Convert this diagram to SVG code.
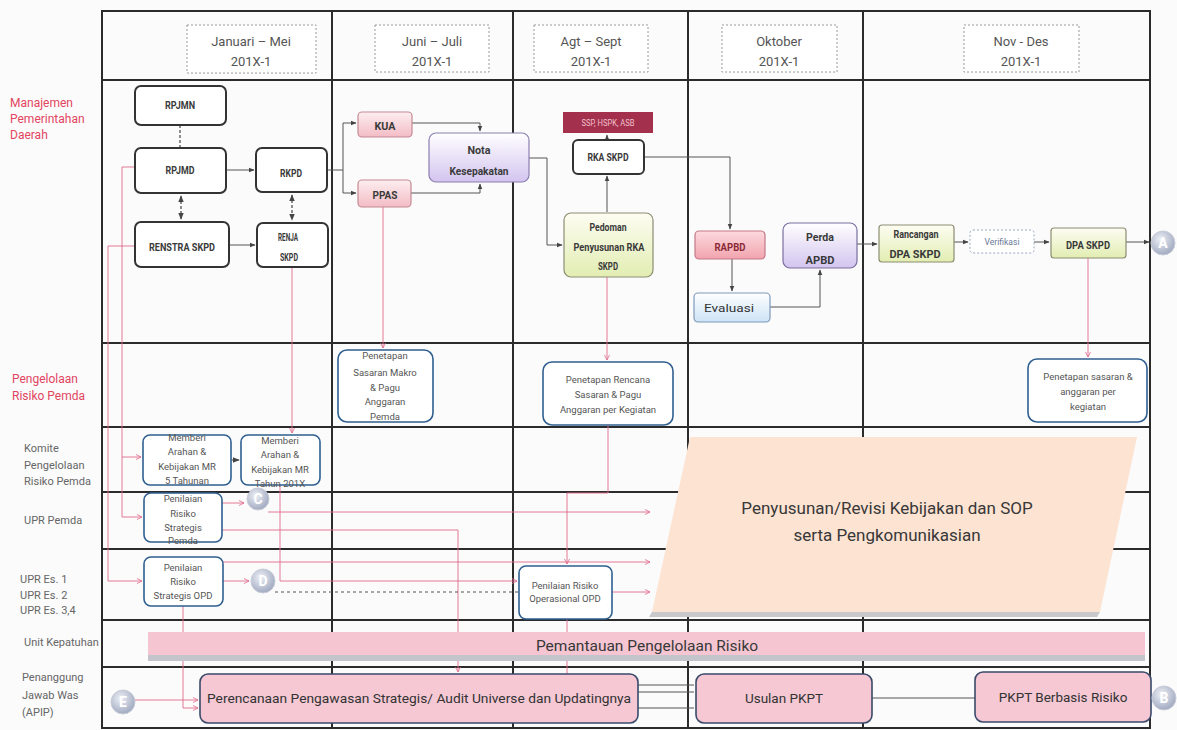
<svg xmlns="http://www.w3.org/2000/svg" width="1177" height="730" viewBox="0 0 1177 730">
<defs>
  <linearGradient id="gPink" x1="0" y1="0" x2="0" y2="1"><stop offset="0" stop-color="#fdeef0"/><stop offset="1" stop-color="#f3bcc5"/></linearGradient>
  <linearGradient id="gRed" x1="0" y1="0" x2="0" y2="1"><stop offset="0" stop-color="#fcdade"/><stop offset="1" stop-color="#f2a4ae"/></linearGradient>
  <linearGradient id="gPurple" x1="0" y1="0" x2="0" y2="1"><stop offset="0" stop-color="#ffffff"/><stop offset="1" stop-color="#d3c4ef"/></linearGradient>
  <linearGradient id="gYellow" x1="0" y1="0" x2="0" y2="1"><stop offset="0" stop-color="#fdfdf2"/><stop offset="1" stop-color="#e2edb2"/></linearGradient>
  <linearGradient id="gBlue" x1="0" y1="0" x2="0" y2="1"><stop offset="0" stop-color="#ffffff"/><stop offset="1" stop-color="#cde3f6"/></linearGradient>
  <radialGradient id="gCircle" cx="0.4" cy="0.35" r="0.7"><stop offset="0" stop-color="#eef0f6"/><stop offset="1" stop-color="#9ba5bd"/></radialGradient>
  <marker id="ag" viewBox="0 0 10 10" refX="9" refY="5" markerWidth="6" markerHeight="6" orient="auto-start-reverse"><path d="M0,1 L10,5 L0,9 z" fill="#444"/></marker>
  <marker id="ap" viewBox="0 0 10 10" refX="9" refY="5" markerWidth="7" markerHeight="7" orient="auto"><path d="M1,1 L9,5 L1,9" fill="none" stroke="#e06a8a" stroke-width="1.3"/></marker>
</defs>
<style>
  .grid{stroke:#2b2b2b;stroke-width:2;fill:none}
  .hdr{fill:#fff;stroke:#999;stroke-width:1;stroke-dasharray:2 2}
  .hdrt{font-family:Roboto,"Liberation Sans",sans-serif;font-size:13px;fill:#555;text-anchor:middle}
  .lane{font-family:Roboto,"Liberation Sans",sans-serif;font-size:11px;fill:#666}
  .laner{font-family:Roboto,"Liberation Sans",sans-serif;font-size:12px;fill:#e2455f}
  .nd{fill:#fff;stroke:#333;stroke-width:2}
  .bt{font-family:Roboto,"Liberation Sans",sans-serif;font-weight:bold;font-size:11px;fill:#3a3a3a;text-anchor:middle}
  .bn{fill:#fff;stroke:#2f5f8f;stroke-width:1.6}
  .st{font-family:Roboto,"Liberation Sans",sans-serif;font-size:9.5px;fill:#555;text-anchor:middle}
  .pk{stroke:#e06a8a;stroke-width:0.9;fill:none}
  .gc{stroke:#555;stroke-width:1;fill:none}
  .gd{stroke:#444;stroke-width:1.2;fill:none;stroke-dasharray:3 2}
  .circ{fill:url(#gCircle);stroke:#c8ccd8;stroke-width:1}
  .ct{font-family:Roboto,"Liberation Sans",sans-serif;font-weight:bold;font-size:14px;fill:#fff;text-anchor:middle}
  .big{font-family:Roboto,"Liberation Sans",sans-serif;font-size:17px;fill:#383838;text-anchor:middle}
  .pb{fill:#f5c8d4;stroke:#3a4a6a;stroke-width:1.6}
  .pbt{font-family:Roboto,"Liberation Sans",sans-serif;font-size:13.5px;fill:#333;text-anchor:middle}
</style>
<rect x="0" y="0" width="1177" height="730" fill="#fbfbfb"/>

<!-- grid -->
<g id="grid">
  <rect class="grid" x="102" y="11" width="1048" height="717"/>
  <path class="grid" d="M102,80 H1150 M102,343 H1150 M102,427 H1150 M102,492 H1150 M102,549 H1150 M102,620 H1150 M102,667 H1150"/>
  <path class="grid" d="M332,11 V728 M513,11 V728 M688,11 V728 M863,11 V728"/>
</g>

<!-- headers -->
<g id="headers">
  <rect class="hdr" x="187" y="25" width="129" height="48"/>
  <text class="hdrt" x="251" y="46">Januari – Mei</text><text class="hdrt" x="251" y="66">201X-1</text>
  <rect class="hdr" x="375" y="25" width="114" height="47"/>
  <text class="hdrt" x="432" y="46">Juni – Juli</text><text class="hdrt" x="432" y="66">201X-1</text>
  <rect class="hdr" x="534" y="25" width="114" height="47"/>
  <text class="hdrt" x="591" y="46">Agt – Sept</text><text class="hdrt" x="591" y="66">201X-1</text>
  <rect class="hdr" x="722" y="25" width="115" height="47"/>
  <text class="hdrt" x="779" y="46">Oktober</text><text class="hdrt" x="779" y="66">201X-1</text>
  <rect class="hdr" x="964" y="25" width="115" height="47"/>
  <text class="hdrt" x="1021" y="46">Nov - Des</text><text class="hdrt" x="1021" y="66">201X-1</text>
</g>

<!-- lane labels -->
<g id="lanes">
  <text class="laner" x="10" y="107">Manajemen</text>
  <text class="laner" x="10" y="123">Pemerintahan</text>
  <text class="laner" x="10" y="139">Daerah</text>
  <text class="laner" x="12" y="383">Pengelolaan</text>
  <text class="laner" x="12" y="400">Risiko Pemda</text>
  <text class="lane" x="24" y="452">Komite</text>
  <text class="lane" x="24" y="469">Pengelolaan</text>
  <text class="lane" x="24" y="485">Risiko Pemda</text>
  <text class="lane" x="24" y="524">UPR Pemda</text>
  <text class="lane" x="20" y="583">UPR Es. 1</text>
  <text class="lane" x="20" y="599">UPR Es. 2</text>
  <text class="lane" x="20" y="614">UPR Es. 3,4</text>
  <text class="lane" x="24" y="646">Unit Kepatuhan</text>
  <text class="lane" x="22" y="681">Penanggung</text>
  <text class="lane" x="22" y="699">Jawab Was</text>
  <text class="lane" x="22" y="716">(APIP)</text>
</g>

<!-- big background shape -->
<g id="sop">
  <polygon points="652,612 1100,612 1097,617 649,617" fill="#c9c9cc"/>
  <polygon points="690,437 1137,437 1100,612 652,612" fill="#fce3d2"/>
  <text class="big" x="887" y="514">Penyusunan/Revisi Kebijakan dan SOP</text>
  <text class="big" x="887" y="541">serta Pengkomunikasian</text>
</g>

<!-- connectors -->
<g id="connectors">
  <path class="gd" d="M180,125 V148"/>
  <path class="gd" d="M181,196 V219" marker-start="url(#ag)" marker-end="url(#ag)"/>
  <path class="gd" d="M292,195 V220" marker-start="url(#ag)" marker-end="url(#ag)"/>
  <path class="gc" d="M226,170 H254" marker-end="url(#ag)"/>
  <path class="gc" d="M229,245 H255" marker-end="url(#ag)"/>
  <path class="gc" d="M327,170 H343 M343,123 V193"/>
  <path class="gc" d="M343,123 H356" marker-end="url(#ag)"/>
  <path class="gc" d="M343,193 H356" marker-end="url(#ag)"/>
  <path class="gc" d="M412,123 H480 V131" marker-end="url(#ag)"/>
  <path class="gc" d="M411,193 H480 V184" marker-end="url(#ag)"/>
  <path class="gc" d="M529,158 H547 V245 H562" marker-end="url(#ag)"/>
  <path class="gc" d="M607,140 V135" marker-end="url(#ag)"/>
  <path class="gc" d="M607,212 V176" stroke="#999" marker-end="url(#ag)"/>
  <path class="gc" d="M644,157 H730 V229" marker-end="url(#ag)"/>
  <path class="gc" d="M732,259 V291" marker-end="url(#ag)"/>
  <path class="gc" d="M770,307 H820 V270" marker-end="url(#ag)"/>
  <path class="gc" d="M857,244 H877" marker-end="url(#ag)"/>
  <path class="gc" d="M954,242 H968" marker-end="url(#ag)"/>
  <path class="gc" d="M1034,242 H1049" marker-end="url(#ag)"/>
  <path class="gc" d="M1126,242 H1149" marker-end="url(#ag)"/>
  <path class="gd" d="M231,460 H239" marker-end="url(#ag)"/>
  <path class="gc" d="M872,698 H975" stroke="#999"/>
  <path class="gc" d="M638,685 H694 M638,692 H694 M638,708 H694" stroke="#999"/>

  <path class="pk" d="M135,167 H122 V517 H142" marker-end="url(#ap)"/>
  <path class="pk" d="M122,457 H141" marker-end="url(#ap)"/>
  <path class="pk" d="M135,246 H108 V581 H142" marker-end="url(#ap)"/>
  <path class="pk" d="M292,267 V433" marker-end="url(#ap)"/>
  <path class="pk" d="M383,207 V348" marker-end="url(#ap)"/>
  <path class="pk" d="M607,277 V360" marker-end="url(#ap)"/>
  <path class="pk" d="M1088,258 V357" marker-end="url(#ap)"/>
  <path class="pk" d="M222,503 H244" marker-end="url(#ap)"/>
  <path class="pk" d="M223,581 H249" marker-end="url(#ap)"/>
  <path class="pk" d="M268,512 H650" marker-end="url(#ap)"/>
  <path class="pk" d="M222,530 H458 V672" marker-end="url(#ap)"/>
  <path class="pk" d="M223,562 H650" marker-end="url(#ap)"/>
  <path class="pk" d="M280,485 V581 H517" marker-end="url(#ap)"/>
  <path class="gc" d="M275,592 H519" stroke="#aaa" stroke-dasharray="3 3"/>
  <path class="pk" d="M612,592 H650" marker-end="url(#ap)"/>
  <path class="pk" d="M608,425 V493 H567 V564" marker-end="url(#ap)"/>
  <path class="pk" d="M567,619 V674"/>
  <path class="pk" d="M135,700 H198" marker-end="url(#ap)"/>
  <path class="pk" d="M183,606 V708 H198" marker-end="url(#ap)"/>
</g>

<g id="pemantauan">
  <rect x="148" y="655" width="997" height="6" fill="#c4c4cc"/>
  <rect x="148" y="632" width="997" height="23" fill="#f5c6d2"/>
  <text class="big" x="647" y="651" style="font-size:15.5px">Pemantauan Pengelolaan Risiko</text>
</g>

<!-- nodes: Manajemen -->
<g id="rpjmn"><rect class="nd" x="135" y="86" width="91" height="39" rx="6"/><text class="bt" x="180" y="109" textLength="30" lengthAdjust="spacingAndGlyphs">RPJMN</text></g>
<g id="rpjmd"><rect class="nd" x="135" y="148" width="91" height="45" rx="6"/><text class="bt" x="180" y="174" textLength="29" lengthAdjust="spacingAndGlyphs">RPJMD</text></g>
<g id="rkpd"><rect class="nd" x="256" y="148" width="71" height="44" rx="6"/><text class="bt" x="291" y="177" textLength="22" lengthAdjust="spacingAndGlyphs">RKPD</text></g>
<g id="renstra"><rect class="nd" x="135" y="222" width="94" height="45" rx="6"/><text class="bt" x="182" y="251" textLength="66" lengthAdjust="spacingAndGlyphs">RENSTRA SKPD</text></g>
<g id="renja"><rect class="nd" x="257" y="223" width="71" height="44" rx="6"/><text class="bt" x="288" y="241" textLength="20" lengthAdjust="spacingAndGlyphs">RENJA</text><text class="bt" x="289" y="261" textLength="18" lengthAdjust="spacingAndGlyphs">SKPD</text></g>
<g id="kua"><rect x="358" y="112" width="54" height="25" rx="4" fill="url(#gPink)" stroke="#c48a94" stroke-width="1.2"/><text class="bt" x="385" y="130" textLength="21" lengthAdjust="spacingAndGlyphs">KUA</text></g>
<g id="ppas"><rect x="358" y="180" width="53" height="27" rx="4" fill="url(#gPink)" stroke="#c48a94" stroke-width="1.2"/><text class="bt" x="385" y="199" textLength="25" lengthAdjust="spacingAndGlyphs">PPAS</text></g>
<g id="nota"><rect x="429" y="133" width="100" height="49" rx="7" fill="url(#gPurple)" stroke="#8b7fb0" stroke-width="1.2"/><text class="bt" x="479" y="154" textLength="23" lengthAdjust="spacingAndGlyphs">Nota</text><text class="bt" x="479" y="175" textLength="59" lengthAdjust="spacingAndGlyphs">Kesepakatan</text></g>
<g id="ssp"><rect x="563" y="112" width="90" height="21" fill="#a3304c"/><text class="st" x="608" y="126" style="fill:#f3c0cc" textLength="53" lengthAdjust="spacingAndGlyphs">SSP, HSPK, ASB</text></g>
<g id="rka"><rect class="nd" x="573" y="140" width="71" height="34" rx="5"/><text class="bt" x="608" y="161" font-size="10" textLength="41" lengthAdjust="spacingAndGlyphs">RKA SKPD</text></g>
<g id="pedoman"><rect x="564" y="213" width="89" height="64" rx="7" fill="url(#gYellow)" stroke="#8d8d72" stroke-width="1.2"/><text class="bt" x="608" y="231" textLength="37" lengthAdjust="spacingAndGlyphs">Pedoman</text><text class="bt" x="609" y="251" textLength="71" lengthAdjust="spacingAndGlyphs">Penyusunan RKA</text><text class="bt" x="608" y="270" textLength="20" lengthAdjust="spacingAndGlyphs">SKPD</text></g>
<g id="rapbd"><rect x="695" y="231" width="70" height="28" rx="4" fill="url(#gRed)" stroke="#c47886" stroke-width="1.2"/><text class="bt" x="730" y="251" font-size="12" style="fill:#8a2a38" textLength="31" lengthAdjust="spacingAndGlyphs">RAPBD</text></g>
<g id="perda"><rect x="783" y="223" width="74" height="45" rx="7" fill="url(#gPurple)" stroke="#7a6f9e" stroke-width="1.2"/><text class="bt" x="820" y="241" font-size="12" textLength="28" lengthAdjust="spacingAndGlyphs">Perda</text><text class="bt" x="820" y="264" font-size="12" textLength="29" lengthAdjust="spacingAndGlyphs">APBD</text></g>
<g id="evaluasi"><rect x="694" y="293" width="76" height="29" rx="4" fill="url(#gBlue)" stroke="#7f9ab8" stroke-width="1.2"/><text class="bt" x="729" y="312" font-size="12" style="font-weight:normal;fill:#333" textLength="50" lengthAdjust="spacingAndGlyphs">Evaluasi</text></g>
<g id="rancangan"><rect x="879" y="225" width="75" height="37" rx="3" fill="url(#gYellow)" stroke="#8d8d72" stroke-width="1.2"/><text class="bt" x="916" y="238" font-size="9" textLength="45" lengthAdjust="spacingAndGlyphs">Rancangan</text><text class="bt" x="915" y="258" font-size="10" textLength="51" lengthAdjust="spacingAndGlyphs">DPA SKPD</text></g>
<g id="verifikasi"><rect x="970" y="230" width="64" height="23" rx="3" fill="#fff" stroke="#9aa6c0" stroke-width="1" stroke-dasharray="2 2"/><text class="st" x="1002" y="245" style="fill:#6a7a98" font-size="8" textLength="35" lengthAdjust="spacingAndGlyphs">Verifikasi</text></g>
<g id="dpa"><rect x="1051" y="228" width="75" height="30" rx="3" fill="url(#gYellow)" stroke="#8d8d72" stroke-width="1.2"/><text class="bt" x="1088" y="249" textLength="44" lengthAdjust="spacingAndGlyphs">DPA SKPD</text></g>

<!-- nodes: Pengelolaan Risiko -->
<g id="penetapan-makro"><rect class="bn" x="338" y="350" width="95" height="72" rx="9"/>
  <text class="st" x="385" y="359">Penetapan</text><text class="st" x="385" y="376">Sasaran Makro</text><text class="st" x="385" y="391">&amp; Pagu</text><text class="st" x="385" y="405">Anggaran</text><text class="st" x="385" y="420">Pemda</text></g>
<g id="penetapan-rencana"><rect class="bn" x="543" y="362" width="130" height="63" rx="9"/>
  <text class="st" x="608" y="383">Penetapan Rencana</text><text class="st" x="608" y="398">Sasaran &amp; Pagu</text><text class="st" x="608" y="413">Anggaran per Kegiatan</text></g>
<g id="penetapan-kegiatan"><rect class="bn" x="1028" y="359" width="119" height="63" rx="9"/>
  <text class="st" x="1088" y="380" font-size="9">Penetapan sasaran &amp;</text><text class="st" x="1088" y="395" font-size="9">anggaran per</text><text class="st" x="1088" y="410" font-size="9">kegiatan</text></g>

<!-- nodes: Komite / UPR -->
<g id="memberi-5"><rect class="bn" x="143" y="435" width="88" height="50" rx="7"/>
  <text class="st" x="187" y="441" font-size="9">Memberi</text><text class="st" x="187" y="455" font-size="9">Arahan &amp;</text><text class="st" x="187" y="470" font-size="9">Kebijakan MR</text><text class="st" x="187" y="484" font-size="9">5 Tahunan</text></g>
<g id="memberi-201x"><rect class="bn" x="241" y="435" width="79" height="50" rx="7"/>
  <text class="st" x="280" y="444" font-size="9">Memberi</text><text class="st" x="280" y="458" font-size="9">Arahan &amp;</text><text class="st" x="280" y="473" font-size="9">Kebijakan MR</text><text class="st" x="280" y="487" font-size="9">Tahun 201X</text></g>
<g id="penilaian-pemda"><rect class="bn" x="144" y="493" width="78" height="49" rx="7"/>
  <text class="st" x="183" y="502" font-size="9">Penilaian</text><text class="st" x="183" y="517" font-size="9">Risiko</text><text class="st" x="183" y="531" font-size="9">Strategis</text><text class="st" x="183" y="544" font-size="9">Pemda</text></g>
<g id="penilaian-opd"><rect class="bn" x="144" y="557" width="79" height="49" rx="7"/>
  <text class="st" x="183" y="571" font-size="9">Penilaian</text><text class="st" x="183" y="585" font-size="9">Risiko</text><text class="st" x="183" y="599" font-size="9">Strategis OPD</text></g>
<g id="penilaian-operasional"><rect class="bn" x="519" y="566" width="93" height="53" rx="7"/>
  <text class="st" x="565" y="589" font-size="8">Penilaian Risiko</text><text class="st" x="565" y="602" font-size="8">Operasional OPD</text></g>

<!-- nodes: APIP -->
<g id="perencanaan"><rect class="pb" x="200" y="674" width="438" height="49" rx="8"/><text class="pbt" x="419" y="703" textLength="424" lengthAdjust="spacingAndGlyphs">Perencanaan Pengawasan Strategis/ Audit Universe dan Updatingnya</text></g>
<g id="usulan"><rect class="pb" x="696" y="674" width="176" height="49" rx="8"/><text class="pbt" x="784" y="703">Usulan PKPT</text></g>
<g id="pkpt"><rect class="pb" x="975" y="672" width="176" height="50" rx="8"/><text class="pbt" x="1063" y="702">PKPT Berbasis Risiko</text></g>

<!-- connector circles -->
<g id="circle-a"><circle class="circ" cx="1163" cy="243" r="12"/><text class="ct" x="1163" y="248">A</text></g>
<g id="circle-b"><circle class="circ" cx="1164" cy="698" r="12"/><text class="ct" x="1164" y="703">B</text></g>
<g id="circle-c"><circle class="circ" cx="258" cy="499" r="11"/><text class="ct" x="258" y="504">C</text></g>
<g id="circle-d"><circle class="circ" cx="263" cy="581" r="12"/><text class="ct" x="263" y="586">D</text></g>
<g id="circle-e"><circle class="circ" cx="123" cy="702" r="12"/><text class="ct" x="123" y="707">E</text></g>
</svg>
